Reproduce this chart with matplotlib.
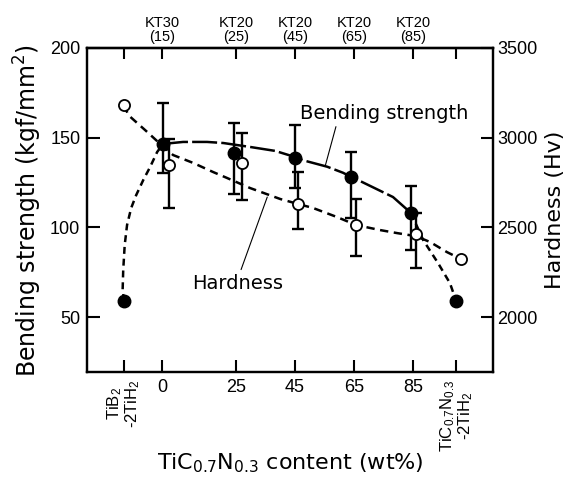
import matplotlib
matplotlib.use("Agg")
import matplotlib.pyplot as plt
from matplotlib import font_manager

plt.rcParams['font.family'] = ['DejaVu Sans']
plt.rcParams['mathtext.default'] = 'regular'
plt.rcParams['lines.scale_dashes'] = False

names = {f.name for f in font_manager.fontManager.ttflist}
narrow = 'Liberation Sans Narrow' if 'Liberation Sans Narrow' in names else 'Liberation Sans'

# bottom / top axis
tick_pos = [-12.9, 0, 25, 45, 65, 85, 99.6]
tick_labels = ['TiB$_2$\n-2TiH$_2$', '0', '25', '45', '65', '85', 'TiC$_{0.7}$N$_{0.3}$\n-2TiH$_2$']
top_labels = ['', 'KT30\n(15)', 'KT20\n(25)', 'KT20\n(45)', 'KT20\n(65)', 'KT20\n(85)', '']

# bending strength (kgf/mm2), filled circles
bs_x = [-12.9, 0.3, 24.4, 45.0, 64.0, 84.3, 99.6]
bs = [59.0, 146.5, 141.4, 138.6, 128.1, 108.0, 59.0]
bs_hi = [None, 169.3, 158.2, 157.1, 142.0, 123.0, None]
bs_lo = [None, 130.3, 118.6, 121.9, 105.2, 87.3, None]

# hardness (Hv), open circles
hv_x = [-12.9, 2.4, 27.1, 46.1, 65.7, 86.0, 101.3]
hv = [3182, 2847, 2859, 2630, 2513, 2463, 2323]
hv_hi = [None, 2992, 3026, 2808, 2658, 2580, None]
hv_lo = [None, 2608, 2652, 2491, 2340, 2273, None]

# hand drawn guide curves
bs_curve_left_x = [-12.9, -13.4, -13.2, -12.7, -11.9, -10.5, -8.8, -6.4, -4.1, -1.7, 0.3]
bs_curve_left_y = [59.0, 65.0, 76.2, 90.1, 101.3, 110.8, 118.0, 126.4, 133.6, 142.0, 146.5]
bs_curve_mid_x = [0.3, 7.1, 15.2, 20.7, 29.8, 38.3, 45.0, 47.7, 55.9, 61.3, 64.0, 67.7, 78.2, 84.3]
bs_curve_mid_y = [146.5, 147.6, 147.6, 147.0, 144.8, 142.6, 139.2, 137.4, 133.8, 130.4, 128.1, 125.3, 116.9, 108.0]
bs_curve_right_x = [84.3, 88.4, 93.5, 97.5, 99.6]
bs_curve_right_y = [108.0, 93.0, 80.0, 68.9, 59.0]

hv_curve_x = [-12.9, -11.5, -5.1, -1.4, 3.7, 10.5, 17.3, 22.0, 29.8, 40.0, 46.1, 51.1, 59.3,
              65.7, 73.8, 79.6, 86.0, 90.8, 96.5, 101.3]
hv_curve_y = [3182, 3126, 3032, 2976, 2903, 2859, 2808, 2775, 2719, 2658, 2630, 2608, 2557,
              2513, 2485, 2468, 2451, 2418, 2362, 2323]

fig = plt.figure(figsize=(5.7, 4.79), dpi=100)
ax = fig.add_axes([0.153, 0.223, 0.712, 0.677])
ax2 = ax.twinx()

lw = 1.8
ax.plot(bs_curve_left_x, bs_curve_left_y, color='black', lw=lw, dashes=(5, 3.5), zorder=2)
ax.plot(bs_curve_mid_x, bs_curve_mid_y, color='black', lw=lw, dashes=(18, 3), zorder=2)
ax.plot(bs_curve_right_x, bs_curve_right_y, color='black', lw=lw, dashes=(5, 3.5), zorder=2)
ax2.plot(hv_curve_x, hv_curve_y, color='black', lw=lw, dashes=(6, 4), zorder=2)

# error bars
for x, y, hi, lo in zip(bs_x, bs, bs_hi, bs_lo):
    if hi is None:
        continue
    ax.errorbar([x], [y], yerr=[[y - lo], [hi - y]], fmt='none', ecolor='black',
                elinewidth=1.7, capsize=4.5, capthick=1.7, zorder=3)
for x, y, hi, lo in zip(hv_x, hv, hv_hi, hv_lo):
    if hi is None:
        continue
    ax2.errorbar([x], [y], yerr=[[y - lo], [hi - y]], fmt='none', ecolor='black',
                 elinewidth=1.7, capsize=4.5, capthick=1.7, zorder=3)

ax.plot(bs_x, bs, 'o', color='black', ms=9, zorder=4)
ax2.plot(hv_x, hv, 'o', mfc='white', mec='black', mew=1.3, ms=8, zorder=5)

ax.set_xlim(-25.4, 112.1)
ax.set_ylim(19.3, 200)
ax2.set_ylim(1693, 3500)
ax.set_yticks([50, 100, 150, 200])
ax2.set_yticks([2000, 2500, 3000, 3500])

ax.set_xticks(tick_pos)
ax.set_xticklabels(tick_labels)
for i, t in enumerate(ax.get_xticklabels()):
    if i in (0, len(tick_pos) - 1):
        t.set_family(narrow)
        t.set_rotation(90)
        t.set_fontsize(12)
        t.set_va('top')
        t.set_linespacing(0.95)
    else:
        t.set_family('Liberation Sans')
        t.set_fontsize(13)

top = ax.secondary_xaxis('top')
top.set_xticks(tick_pos)
top.set_xticklabels(top_labels, fontsize=10.5, linespacing=0.95, family='Liberation Sans')
top.tick_params(direction='in', length=8, width=1.5, pad=3)

for a in (ax, ax2):
    for t in a.get_yticklabels():
        t.set_family('Liberation Sans')
        t.set_fontsize(13)
ax.tick_params(axis='both', direction='in', length=9, width=1.5, pad=5)
ax2.tick_params(axis='y', direction='in', length=9, width=1.5, pad=3)

for a in (ax, ax2):
    for s in a.spines.values():
        s.set_linewidth(1.6)
top.spines['top'].set_linewidth(1.6)

ax.set_ylabel('Bending strength (kgf/mm$^2$)', fontsize=17, labelpad=4)
ax2.set_ylabel('Hardness (Hv)', fontsize=16, labelpad=5)
ax.set_xlabel('TiC$_{0.7}$N$_{0.3}$ content (wt%)', fontsize=16, labelpad=0)

# curve labels with leader lines
ax.annotate('Bending strength', xy=(55.2, 134.0), xytext=(46.7, 163.7),
            fontsize=14, va='center', ha='left',
            arrowprops=dict(arrowstyle='-', color='black', lw=0.8, shrinkA=1, shrinkB=0,
                            relpos=(0.22, 0.0)))
ax.annotate('Hardness', xy=(35.6, 116.9), xytext=(10.2, 68.9),
            fontsize=14, va='center', ha='left',
            arrowprops=dict(arrowstyle='-', color='black', lw=0.8, shrinkA=1, shrinkB=0,
                            relpos=(0.52, 1.0)))

fig.savefig('out.png', dpi=100)
